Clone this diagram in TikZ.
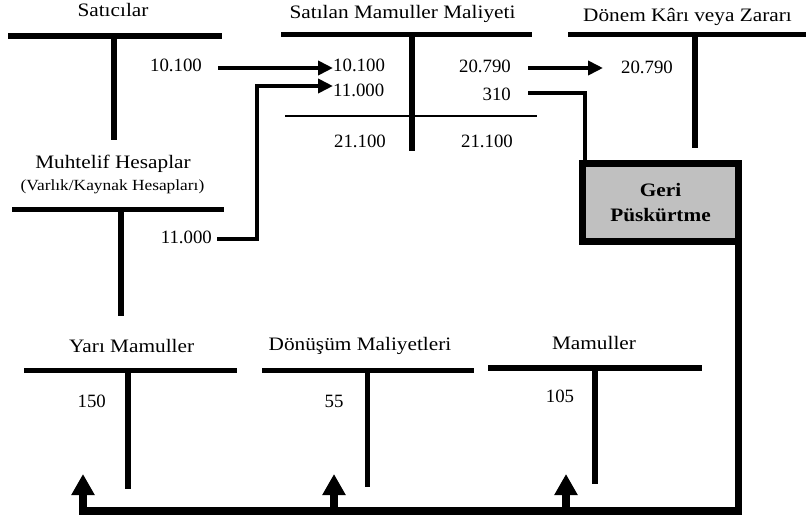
\documentclass[tikz,border=0pt]{standalone}
\usepackage{fontspec}
\setmainfont{Liberation Serif}
\newfontfamily\ttlfont[FakeStretch=1.12]{Liberation Serif}
\usetikzlibrary{arrows.meta}
\definecolor{boxgray}{RGB}{192,192,192}
\tikzset{
  lbl/.style={inner sep=0pt, font=\fontsize{18.8}{22}\selectfont},
  ttl/.style={inner sep=0pt, font=\ttlfont\fontsize{19}{22}\selectfont},
  small/.style={inner sep=0pt, font=\ttlfont\fontsize{15.5}{18}\selectfont},
  bar/.style={line width=5.5pt},
  thin/.style={line width=1.5pt},
  flow/.style={line width=4pt, line join=miter, -{Triangle[length=15pt,width=14pt]}},
  link/.style={line width=4pt, line join=miter},
  ret/.style={line width=7.5pt, line join=miter, -{Triangle[length=21pt,width=22pt]}},
  rbox/.style={draw, line width=7pt, fill=boxgray, outer sep=0pt, inner sep=0pt,
    minimum width=156pt, minimum height=78pt, align=center,
    font=\ttlfont\fontsize{19}{25}\selectfont\bfseries}
}
\begin{document}
\begin{tikzpicture}[x=1pt,y=-1pt]
\useasboundingbox (0,0) rectangle (812,519);

% --- Satıcılar
\node[ttl, anchor=base] (sat) at (113,17) {Satıcılar};
\draw[bar] (8,36) -- (222,36);
\draw[bar] (114,36) -- (114,140);
\node[lbl, anchor=base east] (sat1) at (202,72) {10.100};

% --- Muhtelif Hesaplar
\node[ttl, anchor=base] (muh) at (113,168) {Muhtelif Hesaplar};
\node[small, anchor=base] (muhs) at (112.5,190) {(Varlık/Kaynak Hesapları)};
\draw[bar] (12,209.5) -- (224,209.5);
\draw[bar] (121,209.5) -- (121,316);
\node[lbl, anchor=base east] (muh1) at (212,243) {11.000};

% --- Satılan Mamuller Maliyeti
\node[ttl, anchor=base] (smm) at (402.5,19) {Satılan Mamuller Maliyeti};
\draw[bar] (281,34.5) -- (532,34.5);
\draw[bar] (412,34.5) -- (412,151);
\draw[thin] (285,116) -- (537,116);
\node[lbl, anchor=base west] (smm1) at (333,72) {10.100};
\node[lbl, anchor=base west] (smm2) at (333,97) {11.000};
\node[lbl, anchor=base east] (smm3) at (511,73) {20.790};
\node[lbl, anchor=base east] (smm4) at (511,101) {310};
\node[lbl, anchor=base] (smmt1) at (360,147) {21.100};
\node[lbl, anchor=base] (smmt2) at (487,147) {21.100};

% --- Dönem Kârı veya Zararı
\node[ttl, anchor=base] (dkz) at (687.5,22) {Dönem Kârı veya Zararı};
\draw[bar] (568,34.5) -- (806,34.5);
\draw[bar] (695,34.5) -- (695,148);
\node[lbl, anchor=base] (dkz1) at (647,74) {20.790};

% --- Geri Püskürtme
\node[rbox] (box) at (660.5,202.5) {Geri\\Püskürtme};

% --- Yarı Mamuller
\node[ttl, anchor=base] (ym) at (131.7,352) {Yarı Mamuller};
\draw[bar] (24,370.5) -- (237,370.5);
\draw[bar] (128,370.5) -- (128,489);
\node[lbl, anchor=base] (ym1) at (91.7,407) {150};

% --- Dönüşüm Maliyetleri
\node[ttl, anchor=base] (dm) at (360,350) {Dönüşüm Maliyetleri};
\draw[bar] (262,370.5) -- (474,370.5);
\draw[bar] (367.5,370.5) -- (367.5,487);
\node[lbl, anchor=base] (dm1) at (334,407) {55};

% --- Mamuller
\node[ttl, anchor=base] (mm) at (594,349) {Mamuller};
\draw[bar] (488,368) -- (702,368);
\draw[bar] (595,368) -- (595,484);
\node[lbl, anchor=base] (mm1) at (560,402) {105};

% --- connector end points
\coordinate (satout) at (218,68);
\coordinate (smmin1) at (333,68);
\coordinate (muhout) at (217,239);
\coordinate (smmin2) at (333,86);
\coordinate (smmout1) at (528,68);
\coordinate (dkzin) at (603,68);
\coordinate (smmout2) at (528,93);
\coordinate (ymtip) at (83,474);
\coordinate (dmbase) at (334,511);
\coordinate (dmtip) at (334,474);
\coordinate (mmbase) at (566,511);
\coordinate (mmtip) at (566,474);

% --- flows
\draw[flow] (satout) -- (smmin1);
\draw[flow] (muhout) -- ++(40,0) |- (smmin2);
\draw[flow] (smmout1) -- (dkzin);
\draw[link] (smmout2) -| ([xshift=2pt]box.north west);

% --- return from Geri Püskürtme
\draw[ret] (box.south east) |- (83,511) -- (ymtip);
\draw[ret] (dmbase) -- (dmtip);
\draw[ret] (mmbase) -- (mmtip);
\end{tikzpicture}
\end{document}
